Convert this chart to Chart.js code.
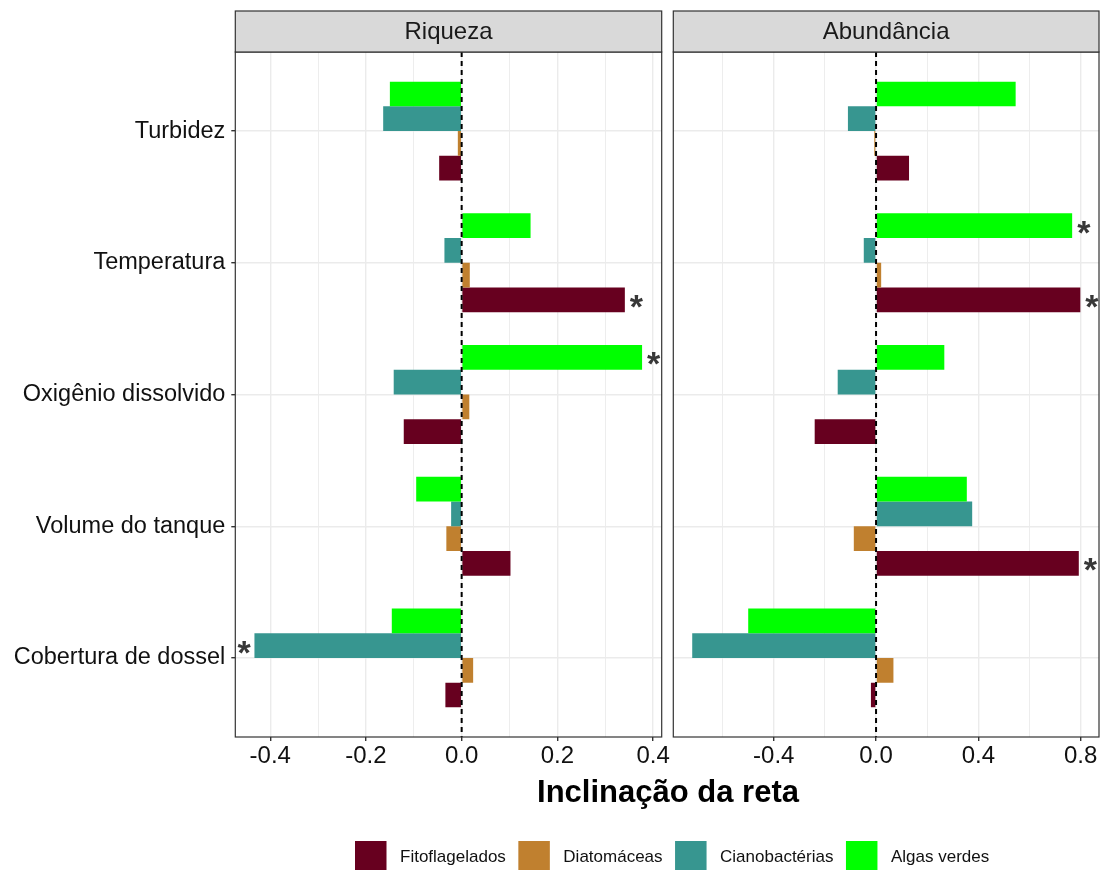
<!DOCTYPE html>
<html>
<head>
<meta charset="utf-8">
<script src="https://cdn.jsdelivr.net/npm/chart.js@4.4.1/dist/chart.umd.min.js"></script>
<style>
  html, body { margin: 0; padding: 0; background: #ffffff; }
  #wrap { position: relative; width: 1104px; height: 870px; }
  #wrap canvas { position: absolute; left: 0; top: 0; }
</style>
</head>
<body>
<div id="wrap">
  <canvas id="riqueza" width="1104" height="870"></canvas>
  <canvas id="abundancia" width="1104" height="870"></canvas>
</div>
<script>
// Predictors (top to bottom)
const categories = ['Turbidez', 'Temperatura', 'Oxigênio dissolvido', 'Volume do tanque', 'Cobertura de dossel'];

// Groups, in legend order
const seriesNames = ['Fitoflagelados', 'Diatomáceas', 'Cianobactérias', 'Algas verdes'];
const seriesColors = ['#67001F', '#C0802F', '#379690', '#00FF00'];

// Slopes – richness
const riquezaFito   = [-0.047, 0.341, -0.121, 0.102, -0.034];
const riquezaDiato  = [-0.008, 0.017, 0.016, -0.032, 0.024];
const riquezaCiano  = [-0.164, -0.036, -0.142, -0.022, -0.433];
const riquezaAlgas  = [-0.150, 0.144, 0.377, -0.095, -0.146];

// Slopes – abundance
const abundFito  = [0.129, 0.799, -0.240, 0.793, -0.020];
const abundDiato = [-0.007, 0.020, 0.003, -0.087, 0.068];
const abundCiano = [-0.110, -0.048, -0.150, 0.376, -0.719];
const abundAlgas = [0.546, 0.767, 0.267, 0.355, -0.500];

// Significant slopes (1 = marked with *)
const riquezaSigFito  = [0, 1, 0, 0, 0];
const riquezaSigDiato = [0, 0, 0, 0, 0];
const riquezaSigCiano = [0, 0, 0, 0, 1];
const riquezaSigAlgas = [0, 0, 1, 0, 0];
const abundSigFito  = [0, 1, 0, 1, 0];
const abundSigDiato = [0, 0, 0, 0, 0];
const abundSigCiano = [0, 0, 0, 0, 0];
const abundSigAlgas = [0, 1, 0, 0, 0];

// Axis limits, tick labels and grid positions
const riquezaLimits = [-0.473, 0.418];
const riquezaTicks  = [-0.4, -0.2, 0.0, 0.2, 0.4];
const riquezaGrid   = [-0.4, -0.3, -0.2, -0.1, 0.0, 0.1, 0.2, 0.3, 0.4];
const abundLimits = [-0.793, 0.872];
const abundTicks  = [-0.4, 0.0, 0.4, 0.8];
const abundGrid   = [-0.6, -0.4, -0.2, 0.0, 0.2, 0.4, 0.6, 0.8];

const FONT = '"Liberation Sans", Arial, Helvetica, sans-serif';
const GRID = '#EBEBEB';
const DARK = '#333333';

function makeDatasets(values, sigs) {
  // drawn top-to-bottom inside each group: Algas, Ciano, Diato, Fito
  const order = [3, 2, 1, 0];
  return order.map(k => ({
    label: seriesNames[k],
    seriesIndex: k,
    data: values[k].map((v, i) => ({ x: v, y: i })),
    sig: sigs[k],
    backgroundColor: seriesColors[k],
    borderWidth: 0,
    categoryPercentage: 0.75,
    barPercentage: 1.0
  }));
}

const isMajor = (v, ticks) => ticks.some(t => Math.abs(t - v) < 1e-6);

// Strip header, panel frame, zero reference line and significance marks
const panelPlugin = {
  id: 'panel',
  afterDatasetsDraw(chart) {
    const { ctx, chartArea: a } = chart;
    const xs = chart.scales.x;
    const x0 = xs.getPixelForValue(0);
    ctx.save();
    ctx.strokeStyle = '#000';
    ctx.lineWidth = 2;
    ctx.setLineDash([5, 4]);
    ctx.beginPath();
    ctx.moveTo(x0, a.top);
    ctx.lineTo(x0, a.bottom);
    ctx.stroke();
    ctx.restore();

    ctx.save();
    ctx.font = 'bold 34px ' + FONT;
    ctx.fillStyle = '#383838';
    ctx.textAlign = 'left';
    ctx.textBaseline = 'alphabetic';
    const m = ctx.measureText('*');
    chart.data.datasets.forEach((ds, di) => {
      const meta = chart.getDatasetMeta(di);
      ds.sig.forEach((s, i) => {
        if (!s) return;
        const el = meta.data[i];
        const v = ds.data[i].x;
        const baseY = el.y + 1.5 + (m.actualBoundingBoxAscent - m.actualBoundingBoxDescent) / 2;
        let tx;
        if (v >= 0) {
          tx = el.x + 5 + m.actualBoundingBoxLeft;
        } else {
          tx = el.x - 3 - m.actualBoundingBoxRight;
        }
        ctx.fillText('*', tx, baseY);
      });
    });
    ctx.restore();
  },
  afterDraw(chart, args, opts) {
    const { ctx, chartArea: a } = chart;
    ctx.save();
    // frame
    ctx.strokeStyle = DARK;
    ctx.lineWidth = 1.2;
    ctx.strokeRect(a.left, a.top, a.right - a.left, a.bottom - a.top);
    // strip
    const sTop = 11;
    ctx.fillStyle = '#D9D9D9';
    ctx.fillRect(a.left, sTop, a.right - a.left, a.top - sTop);
    ctx.strokeRect(a.left, sTop, a.right - a.left, a.top - sTop);
    ctx.fillStyle = '#1A1A1A';
    ctx.font = '24px ' + FONT;
    ctx.textAlign = 'center';
    ctx.textBaseline = 'middle';
    ctx.fillText(opts.title, (a.left + a.right) / 2, (sTop + a.top) / 2 + 1);
    ctx.restore();
  }
};

// Shared x-axis title and legend, drawn once
const figurePlugin = {
  id: 'figure',
  afterDraw(chart) {
    const ctx = chart.ctx;
    ctx.save();
    ctx.fillStyle = '#000';
    ctx.font = 'bold 31px ' + FONT;
    ctx.textAlign = 'center';
    ctx.textBaseline = 'alphabetic';
    ctx.fillText('Inclinação da reta', 668, 802);

    ctx.font = '17px ' + FONT;
    ctx.textAlign = 'left';
    ctx.textBaseline = 'middle';
    let x = 355;
    seriesNames.forEach((name, k) => {
      ctx.fillStyle = seriesColors[k];
      ctx.fillRect(x, 841, 31.5, 31);
      ctx.fillStyle = '#111111';
      ctx.fillText(name, x + 45, 857);
      x += 45 + ctx.measureText(name).width + 12.5;
    });
    ctx.restore();
  }
};

function panelConfig(opts) {
  return {
    type: 'bar',
    data: { datasets: makeDatasets(opts.values, opts.sigs) },
    plugins: opts.plugins,
    options: {
      indexAxis: 'y',
      responsive: false,
      animation: false,
      devicePixelRatio: 1,
      layout: { padding: opts.padding },
      plugins: {
        legend: { display: false },
        tooltip: { enabled: false },
        panel: { title: opts.title }
      },
      scales: {
        y: {
          type: 'linear',
          reverse: true,
          offset: false,
          min: -0.6,
          max: 4.6,
          afterBuildTicks: s => { s.ticks = categories.map((c, i) => ({ value: i })); },
          afterFit: s => { s.width = opts.yWidth; },
          border: { display: false },
          grid: {
            offset: false,
            color: GRID,
            lineWidth: 1.4,
            drawTicks: opts.showY,
            tickLength: 4,
            tickColor: DARK
          },
          ticks: {
            display: opts.showY,
            padding: 6,
            color: '#111111',
            font: { family: FONT, size: 23.5 },
            callback: v => categories[v]
          }
        },
        x: {
          type: 'linear',
          min: opts.limits[0],
          max: opts.limits[1],
          afterBuildTicks: s => { s.ticks = opts.grid.map(v => ({ value: v })); },
          afterFit: s => { s.height = 40; },
          border: { display: false },
          grid: {
            color: GRID,
            lineWidth: c => isMajor(c.tick.value, opts.ticks) ? 1.4 : 0.9,
            tickLength: 4,
            tickColor: c => isMajor(c.tick.value, opts.ticks) ? DARK : 'rgba(0,0,0,0)'
          },
          ticks: {
            padding: 1,
            color: '#111111',
            maxRotation: 0,
            autoSkip: false,
            font: { family: FONT, size: 24 },
            callback: v => isMajor(v, opts.ticks) ? (Math.abs(v) < 1e-9 ? '0.0' : v.toFixed(1)) : ''
          }
        }
      }
    }
  };
}

new Chart(document.getElementById('riqueza'), panelConfig({
  title: 'Riqueza',
  values: [riquezaFito, riquezaDiato, riquezaCiano, riquezaAlgas],
  sigs: [riquezaSigFito, riquezaSigDiato, riquezaSigCiano, riquezaSigAlgas],
  limits: riquezaLimits,
  ticks: riquezaTicks,
  grid: riquezaGrid,
  showY: true,
  yWidth: 235.3,
  padding: { left: 0, right: 442.3, top: 52, bottom: 93 },
  plugins: [panelPlugin]
}));

new Chart(document.getElementById('abundancia'), panelConfig({
  title: 'Abundância',
  values: [abundFito, abundDiato, abundCiano, abundAlgas],
  sigs: [abundSigFito, abundSigDiato, abundSigCiano, abundSigAlgas],
  limits: abundLimits,
  ticks: abundTicks,
  grid: abundGrid,
  showY: false,
  yWidth: 0,
  padding: { left: 673.3, right: 5, top: 52, bottom: 93 },
  plugins: [panelPlugin, figurePlugin]
}));
</script>
</body>
</html>
